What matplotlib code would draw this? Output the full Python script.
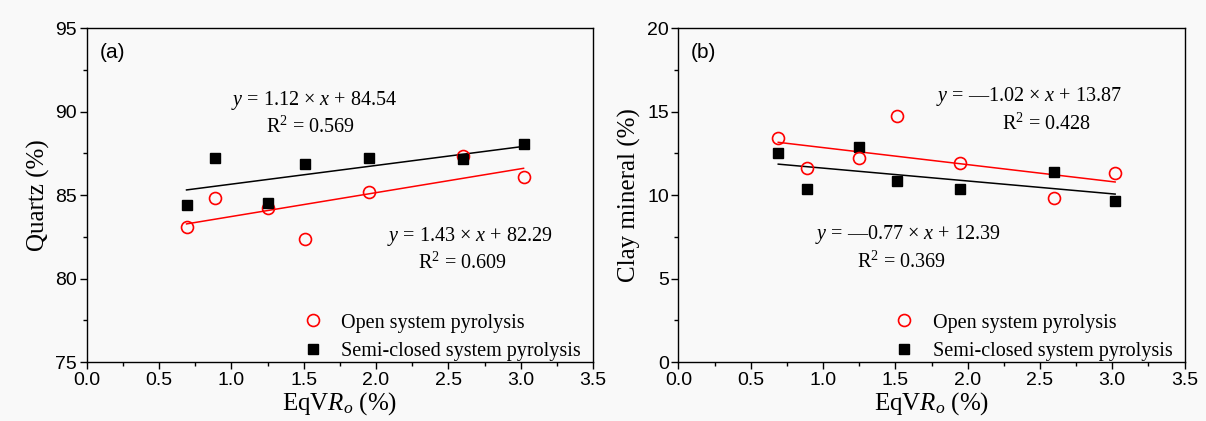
import matplotlib
matplotlib.use("Agg")
import matplotlib.pyplot as plt
from matplotlib.ticker import MultipleLocator, FormatStrFormatter
from matplotlib.lines import Line2D
import numpy as np

# EqVRo (%) of the pyrolysis samples
eqvro = [0.69, 0.89, 1.25, 1.51, 1.95, 2.60, 3.02]

# Quartz content (%)
quartz_open = [83.1, 84.8, 84.25, 82.35, 85.2, 87.35, 86.1]
quartz_semi = [84.4, 87.25, 84.5, 86.85, 87.25, 87.15, 88.05]

# Clay mineral content (%)
clay_open = [13.45, 11.65, 12.2, 14.75, 11.95, 9.85, 11.35]
clay_semi = [12.5, 10.35, 12.9, 10.85, 10.35, 11.4, 9.65]

# Linear fits (slope, intercept, R^2)
fit_quartz_open = (1.43, 82.29, 0.609)
fit_quartz_semi = (1.12, 84.54, 0.569)
fit_clay_open = (-1.02, 13.87, 0.428)
fit_clay_semi = (-0.77, 12.39, 0.369)

legend_labels = ["Open system pyrolysis", "Semi-closed system pyrolysis"]

plt.rcParams["mathtext.fontset"] = "custom"
plt.rcParams["mathtext.rm"] = "Liberation Serif"
plt.rcParams["mathtext.it"] = "Liberation Serif:italic"
plt.rcParams["mathtext.bf"] = "Liberation Serif:bold"

SERIF = "Liberation Serif"
SANS = "Liberation Sans"
BG = "#f9f9f9"

fig = plt.figure(figsize=(12.06, 4.21), dpi=100, facecolor=BG)
ax_a = fig.add_axes([0.0719, 0.1401, 0.4198, 0.7927])
ax_b = fig.add_axes([0.5626, 0.1401, 0.4196, 0.7927])


def eq_text(slope, intercept):
    sign = "" if slope >= 0 else "\u2014"
    return f"$y$ = {sign}{abs(slope):.2f} × $x$ + {intercept:.2f}"


def style_axes(ax, ylim, ymajor, yminor, ylabel, tag):
    ax.set_facecolor(BG)
    ax.set_xlim(0, 3.5)
    ax.set_ylim(*ylim)
    ax.xaxis.set_major_locator(MultipleLocator(0.5))
    ax.xaxis.set_minor_locator(MultipleLocator(0.25))
    ax.yaxis.set_major_locator(MultipleLocator(ymajor))
    ax.yaxis.set_minor_locator(MultipleLocator(yminor))
    ax.tick_params(which="major", direction="out", length=5, width=1,
                   labelsize=14, pad=2)
    ax.tick_params(which="minor", direction="out", length=3, width=1)
    for lab in ax.get_xticklabels() + ax.get_yticklabels():
        lab.set_fontfamily(SANS)
    ax.xaxis.set_major_formatter(FormatStrFormatter("%.1f"))
    ax.yaxis.set_major_formatter(FormatStrFormatter("%d"))
    for sp in ax.spines.values():
        sp.set_linewidth(1.0)
    ax.set_xlabel(r"EqV$\mathit{R}_o$ (%)", fontsize=18, family=SERIF, labelpad=1)
    ax.set_ylabel(ylabel, fontsize=18, family=SERIF, labelpad=4)
    ax.text(0.025, 0.955, tag, transform=ax.transAxes, fontsize=15,
            family=SANS, va="top", ha="left")


def draw_panel(ax, y_open, y_semi, fit_open, fit_semi, semi_on_top):
    xs = np.array([min(eqvro), max(eqvro)])
    ax.plot(xs, fit_semi[0] * xs + fit_semi[1], color="black", lw=1.1, zorder=2)
    ax.plot(xs, fit_open[0] * xs + fit_open[1], color="red", lw=1.1, zorder=2)
    z_semi, z_open = (4, 3) if semi_on_top else (3, 4)
    ax.plot(eqvro, y_open, "o", ms=8.6, mfc="none", mec="red", mew=1.2,
            linestyle="none", zorder=z_open)
    ax.plot(eqvro, y_semi, "s", ms=7.8, mfc="black", mec="black",
            linestyle="none", zorder=z_semi)
    handles = [
        Line2D([], [], marker="o", ms=8.6, mfc="none", mec="red", mew=1.2, ls="none"),
        Line2D([], [], marker="s", ms=7.8, mfc="black", mec="black", ls="none"),
    ]
    ax.legend(handles, legend_labels, loc="lower right",
              bbox_to_anchor=(0.982, -0.005),
              frameon=False, prop={"family": SERIF, "size": 14.5},
              handlelength=1.0, handletextpad=0.9, labelspacing=0.45,
              borderaxespad=0.0, borderpad=0.15)


style_axes(ax_a, (75, 95), 5, 2.5, "Quartz (%)", "(a)")
draw_panel(ax_a, quartz_open, quartz_semi, fit_quartz_open, fit_quartz_semi, True)
ax_a.text(1.57, 90.65, eq_text(*fit_quartz_semi[:2]), fontsize=14.5, family=SERIF,
          ha="center", va="center")
ax_a.text(1.55, 89.05, f"R$^2$ = {fit_quartz_semi[2]:.3f}", fontsize=14.5,
          family=SERIF, ha="center", va="center")
ax_a.text(2.65, 82.55, eq_text(*fit_quartz_open[:2]), fontsize=14.5, family=SERIF,
          ha="center", va="center")
ax_a.text(2.6, 80.95, f"R$^2$ = {fit_quartz_open[2]:.3f}", fontsize=14.5,
          family=SERIF, ha="center", va="center")

style_axes(ax_b, (0, 20), 5, 2.5, "Clay mineral (%)", "(b)")
draw_panel(ax_b, clay_open, clay_semi, fit_clay_open, fit_clay_semi, False)
ax_b.text(2.425, 15.9, eq_text(*fit_clay_open[:2]), fontsize=14.5, family=SERIF,
          ha="center", va="center")
ax_b.text(2.545, 14.25, f"R$^2$ = {fit_clay_open[2]:.3f}", fontsize=14.5,
          family=SERIF, ha="center", va="center")
ax_b.text(1.585, 7.65, eq_text(*fit_clay_semi[:2]), fontsize=14.5, family=SERIF,
          ha="center", va="center")
ax_b.text(1.545, 6.0, f"R$^2$ = {fit_clay_semi[2]:.3f}", fontsize=14.5,
          family=SERIF, ha="center", va="center")

fig.savefig("out.png", dpi=100, facecolor=BG)
